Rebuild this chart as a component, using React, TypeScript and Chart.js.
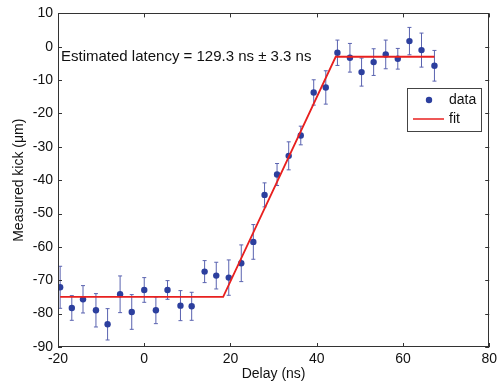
import React, { useEffect, useRef } from "react";
import { Chart, registerables } from "chart.js";

Chart.register(...registerables);

const delays = [-19.5, -16.8, -14.2, -11.2, -8.5, -5.6, -2.9, 0.0, 2.7, 5.4, 8.4, 11.0, 14.0, 16.7, 19.6, 22.5, 25.3, 27.9, 30.8, 33.5, 36.3, 39.3, 42.1, 44.8, 47.7, 50.4, 53.2, 56.0, 58.8, 61.5, 64.3, 67.3];
const kicks = [-72.1, -78.3, -75.7, -79.0, -83.2, -74.2, -79.5, -72.9, -79.0, -72.9, -77.6, -77.8, -67.4, -68.6, -69.2, -64.9, -58.5, -44.4, -38.3, -32.7, -26.6, -13.7, -12.2, -1.8, -3.3, -7.6, -4.6, -2.3, -3.6, 1.7, -1.0, -5.7];
const kickErrors = [6.3, 3.7, 4.1, 5.0, 4.7, 5.5, 5.2, 3.7, 4.0, 2.8, 4.5, 4.2, 3.3, 4.0, 5.3, 5.5, 5.2, 3.6, 3.3, 4.2, 2.8, 3.8, 5.0, 3.8, 4.3, 4.2, 4.0, 4.3, 3.1, 4.1, 5.1, 4.6];
const fitDelays = [-19.5, 18.3, 44.4, 67.3];
const fitKicks = [-75, -75, -3.0, -3.0];
const annotationText = "Estimated latency = 129.3 ns \u00b1 3.3 ns";
const xTitle = "Delay (ns)";
const yTitle = "Measured kick (\u03bcm)";
const legendLabels = ["data", "fit"];

const FONT = "'Liberation Sans', Arial, sans-serif";
const DOT = "#2c3f9e";
const BAR = "#5a63b0";
const RED = "#e8201f";
const AXIS = "#333333";

export default function App() {
  const ref = useRef<HTMLCanvasElement | null>(null);
  useEffect(() => {
    if (!ref.current) return;
    const errorBars = {
      id: "errorBars",
      beforeDatasetsDraw(chart: any) {
        const { ctx, scales } = chart;
        const xs = scales.x, ys = scales.y;
        ctx.save();
        ctx.strokeStyle = BAR;
        ctx.lineWidth = 1;
        delays.forEach((d, i) => {
          const px = xs.getPixelForValue(d);
          const top = ys.getPixelForValue(kicks[i] + kickErrors[i]);
          const bot = ys.getPixelForValue(kicks[i] - kickErrors[i]);
          ctx.beginPath();
          ctx.moveTo(px, top);
          ctx.lineTo(px, bot);
          ctx.moveTo(px - 2, top);
          ctx.lineTo(px + 2, top);
          ctx.moveTo(px - 2, bot);
          ctx.lineTo(px + 2, bot);
          ctx.stroke();
        });
        ctx.restore();
      },
    };
    const frame = {
      id: "frame",
      afterDraw(chart: any) {
        const { ctx, chartArea: a, scales } = chart;
        ctx.save();
        ctx.strokeStyle = AXIS;
        ctx.lineWidth = 1;
        ctx.strokeRect(Math.round(a.left) + 0.5, Math.round(a.top) + 0.5, Math.round(a.right - a.left) - 1, Math.round(a.bottom - a.top) - 1);
        const L = 4;
        ctx.beginPath();
        scales.x.ticks.forEach((t: any) => {
          const px = Math.round(scales.x.getPixelForValue(t.value)) + 0.5;
          ctx.moveTo(px, a.bottom);
          ctx.lineTo(px, a.bottom - L);
          ctx.moveTo(px, a.top);
          ctx.lineTo(px, a.top + L);
        });
        scales.y.ticks.forEach((t: any) => {
          const py = Math.round(scales.y.getPixelForValue(t.value)) + 0.5;
          ctx.moveTo(a.left, py);
          ctx.lineTo(a.left + L, py);
          ctx.moveTo(a.right, py);
          ctx.lineTo(a.right - L, py);
        });
        ctx.stroke();

        // annotation
        ctx.fillStyle = "#111";
        ctx.font = `15px ${FONT}`;
        ctx.textAlign = "left";
        ctx.textBaseline = "middle";
        ctx.fillText(annotationText, a.left + 3, 57);

        // legend
        const bx = 407, by = 88, bw = 74, bh = 43;
        ctx.fillStyle = "#fff";
        ctx.fillRect(bx, by, bw, bh);
        ctx.strokeStyle = "#444";
        ctx.strokeRect(bx + 0.5, by + 0.5, bw, bh);
        ctx.fillStyle = DOT;
        ctx.beginPath();
        ctx.arc(bx + 22, by + 12, 3.2, 0, Math.PI * 2);
        ctx.fill();
        ctx.strokeStyle = RED;
        ctx.lineWidth = 1.5;
        ctx.beginPath();
        ctx.moveTo(bx + 6, by + 31);
        ctx.lineTo(bx + 37, by + 31);
        ctx.stroke();
        ctx.fillStyle = "#111";
        ctx.font = `14px ${FONT}`;
        ctx.fillText(legendLabels[0], bx + 42, by + 12);
        ctx.fillText(legendLabels[1], bx + 42, by + 31);
        ctx.restore();
      },
    };
    const chart = new Chart(ref.current, {
      type: "scatter",
      data: {
        datasets: [
          {
            label: legendLabels[0],
            data: delays.map((d, i) => ({ x: d, y: kicks[i] })),
            pointRadius: 3.2,
            pointBackgroundColor: DOT,
            pointBorderWidth: 0,
            showLine: false,
            order: 1,
          },
          {
            label: legendLabels[1],
            data: fitDelays.map((d, i) => ({ x: d, y: fitKicks[i] })),
            showLine: true,
            borderColor: RED,
            borderWidth: 1.8,
            pointRadius: 0,
            order: 0,
          },
        ],
      },
      plugins: [errorBars, frame],
      options: {
        animation: false,
        responsive: false,
        layout: { padding: { top: 13, right: 9, left: 0, bottom: 0 } },
        plugins: { legend: { display: false }, tooltip: { enabled: false } },
        scales: {
          x: {
            type: "linear",
            min: -20,
            max: 80,
            grid: { display: false, drawTicks: false },
            border: { display: false },
            ticks: { stepSize: 20, padding: 4, color: "#111", font: { family: FONT, size: 14 } },
            title: { display: true, text: xTitle, color: "#111", font: { family: FONT, size: 14 }, padding: { top: 4, bottom: 4 } },
            afterFit(scale: any) { scale.height = 40; },
          },
          y: {
            type: "linear",
            min: -90,
            max: 10,
            grid: { display: false, drawTicks: false },
            border: { display: false },
            ticks: { stepSize: 10, padding: 5, color: "#111", font: { family: FONT, size: 14 } },
            title: { display: true, text: yTitle, color: "#111", font: { family: FONT, size: 14 }, padding: { top: 11, bottom: 11 } },
            afterFit(scale: any) { scale.width = 58; },
          },
        },
      },
    });
    return () => chart.destroy();
  }, []);
  return (
    <div style={{ position: "absolute", left: 0, top: 0, width: 501, height: 387, background: "#fff" }}>
      <canvas ref={ref} width={501} height={387} />
    </div>
  );
}
